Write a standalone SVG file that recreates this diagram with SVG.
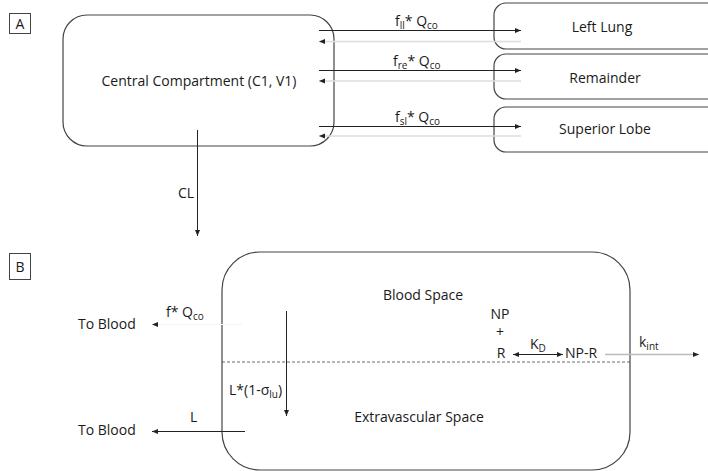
<svg xmlns="http://www.w3.org/2000/svg" width="708" height="471" viewBox="0 0 708 471">
<style>
text{font-family:"Open Sans","Liberation Sans",sans-serif;font-size:14px;fill:#1a1a1a}
.sub{font-size:10px}
.box{fill:#fff;stroke:#444;stroke-width:1.2}
.lbl{fill:#fff;stroke:#444;stroke-width:1}
.blk{stroke:#222;stroke-width:1;fill:none}
.gry{stroke:#ddd;stroke-width:1.5;fill:none}
.mid{stroke:#bbb;stroke-width:1.5;fill:none}
.faint{stroke:#f4f4f4;stroke-width:1;fill:none}
.dash{stroke:#444;stroke-width:0.8;stroke-dasharray:3,2;fill:none}
</style>
<defs>
<marker id="ah" viewBox="0 0 6 6" refX="6" refY="3" markerWidth="6" markerHeight="6" markerUnits="userSpaceOnUse" orient="auto-start-reverse">
<path d="M0,0.5 L6,3 L0,5.5 Z" fill="#222"/>
</marker>
</defs>
<g id="labelA"><rect class="lbl" x="9.5" y="13.5" width="21" height="20"/><text x="20" y="29" text-anchor="middle">A</text></g>
<g id="labelB"><rect class="lbl" x="9.5" y="253.5" width="21" height="26"/><text x="20" y="271.5" text-anchor="middle">B</text></g>
<g id="central"><rect class="box" x="63" y="15" width="271" height="131" rx="24"/><text x="199" y="86" text-anchor="middle">Central Compartment (C1, V1)</text></g>
<g id="leftlung"><rect class="box" x="494" y="3" width="240" height="46" rx="12"/><text x="602" y="32" text-anchor="middle">Left Lung</text></g>
<g id="remainder"><rect class="box" x="494" y="54" width="240" height="45" rx="12"/><text x="605" y="83" text-anchor="middle">Remainder</text></g>
<g id="superior"><rect class="box" x="494" y="107" width="240" height="45" rx="12"/><text x="605" y="134" text-anchor="middle">Superior Lobe</text></g>
<g id="lungbox"><rect class="box" x="222" y="252" width="408" height="218" rx="38"/>
<line class="dash" x1="222" y1="362" x2="630" y2="362"/>
<text x="423" y="300" text-anchor="middle">Blood Space</text>
<text x="419" y="422" text-anchor="middle">Extravascular Space</text>
<text x="500" y="319" text-anchor="middle">NP</text>
<text x="500" y="337" text-anchor="middle">+</text>
<text x="501" y="358" text-anchor="middle">R</text>
<text x="565" y="358">NP-R</text>
</g>
<g id="toblood1"><text x="78" y="329">To Blood</text></g>
<g id="toblood2"><text x="78" y="435">To Blood</text></g>
<g id="connectors">
<line class="gry" x1="521" y1="41.5" x2="319" y2="41.5" marker-end="url(#ah)"/>
<line class="gry" x1="521" y1="81" x2="319" y2="81" marker-end="url(#ah)"/>
<line class="gry" x1="521" y1="136" x2="319" y2="136" marker-end="url(#ah)"/>
<line class="blk" x1="319" y1="30.5" x2="521" y2="30.5" marker-end="url(#ah)"/>
<line class="blk" x1="319" y1="70.5" x2="521" y2="70.5" marker-end="url(#ah)"/>
<line class="blk" x1="319" y1="126.5" x2="521" y2="126.5" marker-end="url(#ah)"/>
<line class="blk" x1="197.5" y1="130" x2="197.5" y2="236" marker-end="url(#ah)"/>
<line class="faint" x1="242" y1="324.5" x2="152" y2="324.5" marker-end="url(#ah)"/>
<line class="blk" x1="286.5" y1="311" x2="286.5" y2="416" marker-end="url(#ah)"/>
<line class="blk" x1="245" y1="431.5" x2="152" y2="431.5" marker-end="url(#ah)"/>
<line class="blk" x1="513" y1="354.5" x2="563" y2="354.5" marker-start="url(#ah)" marker-end="url(#ah)"/>
<line class="mid" x1="605" y1="354.5" x2="699" y2="354.5" marker-end="url(#ah)"/>
<text x="395" y="26">f<tspan class="sub" dy="3">ll</tspan><tspan dy="-3">* Q</tspan><tspan class="sub" dy="3">co</tspan></text>
<text x="393" y="66">f<tspan class="sub" dy="3">re</tspan><tspan dy="-3">* Q</tspan><tspan class="sub" dy="3">co</tspan></text>
<text x="395" y="122">f<tspan class="sub" dy="3">sl</tspan><tspan dy="-3">* Q</tspan><tspan class="sub" dy="3">co</tspan></text>
<text x="178" y="198">CL</text>
<text x="166" y="317">f* Q<tspan class="sub" dy="3">co</tspan></text>
<text x="229" y="395">L*(1-σ<tspan class="sub" dy="3">lu</tspan><tspan dy="-3">)</tspan></text>
<text x="190" y="422">L</text>
<text x="530" y="349">K<tspan class="sub" dy="3">D</tspan></text>
<text x="639" y="347">k<tspan class="sub" dy="3">int</tspan></text>
</g>
</svg>
